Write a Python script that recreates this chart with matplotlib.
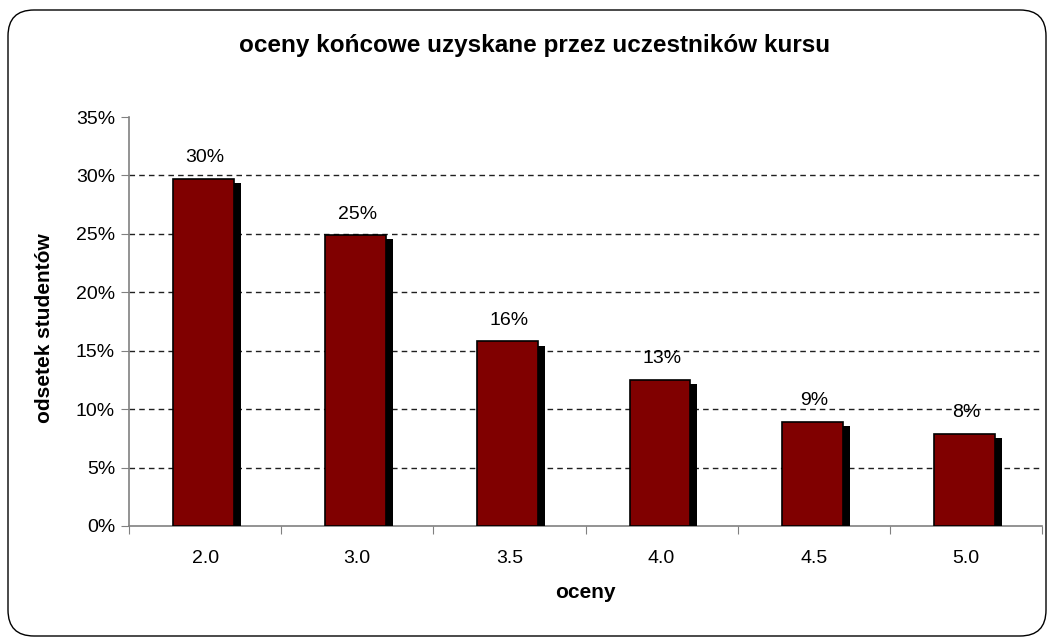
import matplotlib
matplotlib.use("Agg")
import matplotlib.pyplot as plt
from matplotlib import patheffects
from matplotlib.patches import FancyBboxPatch
from matplotlib.transforms import IdentityTransform

# data
grades = ["2.0", "3.0", "3.5", "4.0", "4.5", "5.0"]
share = [29.7, 24.9, 15.8, 12.5, 8.9, 7.9]
share_labels = ["30%", "25%", "16%", "13%", "9%", "8%"]
y_ticks = [0, 5, 10, 15, 20, 25, 30, 35]

plt.rcParams['font.family'] = ['Liberation Sans', 'DejaVu Sans']

fig = plt.figure(figsize=(10.51, 6.40), dpi=100)
ax = fig.add_axes([129 / 1051, 114 / 640, 913 / 1051, 409 / 640])

x = list(range(len(grades)))
shadow = [patheffects.SimplePatchShadow(offset=(5, -3), shadow_rgbFace='black', alpha=1.0),
          patheffects.Normal()]
bars = ax.bar([xi - 0.01 for xi in x], share, width=0.4, color='#800000',
              edgecolor='black', linewidth=1.2, zorder=3)
for b in bars:
    b.set_path_effects(shadow)

# data labels above bars
for xi, v, lab in zip(x, share, share_labels):
    ax.annotate(lab, (xi, v), xytext=(0, 9), textcoords='offset points',
                ha='center', va='bottom', fontsize=14, zorder=4)

# dashed gridlines (not at 0 and top)
for t in y_ticks[1:-1]:
    ax.axhline(t, color='#202020', linestyle=(0, (4, 3)), linewidth=1.0, zorder=1)

ax.set_xlim(-0.5, len(grades) - 0.5)
ax.set_ylim(0, 35)
ax.set_yticks(y_ticks)
ax.set_yticklabels([f"{t}%" for t in y_ticks])

# ticks at category boundaries, labels at centres
ax.set_xticks([i - 0.5 for i in range(len(grades) + 1)])
ax.set_xticklabels([])
ax.set_xticks(x, minor=True)
ax.set_xticklabels(grades, minor=True)
ax.tick_params(axis='x', which='minor', length=0, pad=17, labelsize=14)
ax.tick_params(axis='x', which='major', length=6, color='#808080', direction='out')
ax.tick_params(axis='y', length=6, color='#808080', direction='out', labelsize=14, pad=4)

for s in ['top', 'right']:
    ax.spines[s].set_visible(False)
ax.spines['left'].set_color('#808080')
ax.spines['bottom'].set_color('#808080')
ax.spines['left'].set_linewidth(1.2)
ax.spines['bottom'].set_linewidth(1.2)

ax.set_xlabel("oceny", fontsize=15, fontweight='bold', labelpad=12)
ax.set_ylabel("odsetek studentów", fontsize=15, fontweight='bold')
ax.yaxis.set_label_coords(-0.082, 0.484)
fig.text(0.509, 0.929, "oceny końcowe uzyskane przez uczestników kursu",
         ha='center', va='center', fontsize=17.5, fontweight='bold')

# rounded chart border
border = FancyBboxPatch((8, 4), 1038, 626, boxstyle="round,pad=0,rounding_size=26",
                        transform=IdentityTransform(), facecolor='none',
                        edgecolor='black', linewidth=1.0)
fig.patches.append(border)

fig.savefig("out.png", dpi=100)
